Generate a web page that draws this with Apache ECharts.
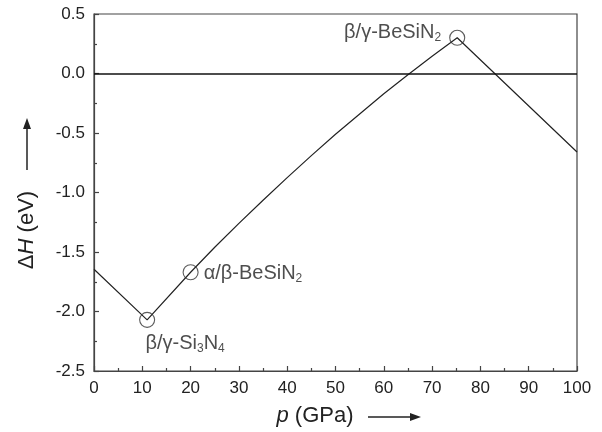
<!DOCTYPE html>
<html>
<head>
<meta charset="utf-8">
<script src="https://cdn.jsdelivr.net/npm/echarts@6/dist/echarts.min.js"></script>
<style>
  html, body { margin: 0; padding: 0; background: #fff; }
  #chart { width: 602px; height: 432px; }
</style>
</head>
<body>
<div id="chart"></div>
<script>
// enthalpy difference vs pressure
const pressure = [0, 11, 20, 25, 30, 35, 40, 45, 50, 55, 60, 65, 70, 75.2, 100]
const deltaH = [-1.645, -2.07, -1.67, -1.46, -1.26, -1.065, -0.875, -0.69, -0.51, -0.34, -0.17, -0.01, 0.145, 0.30, -0.66]

// transition points (open circles)
const transP = [11, 20, 75.2]
const transH = [-2.07, -1.67, 0.30]
const transLabels = ['β/γ-Si{sub|3}N{sub|4}', 'α/β-BeSiN{sub|2}', 'β/γ-BeSiN{sub|2}']

const font = 'Liberation Sans, Arial, sans-serif'
const ink = '#222'

const chart = echarts.init(document.getElementById('chart'))

const labelPos = [
  { position: 'bottom', distance: 5, offset: [38, 0] },
  { position: 'right', distance: 5, offset: [0, 1] },
  { position: 'left', distance: 8, offset: [0, -5] }
]

const richText = {
  sub: { fontSize: 12, fontFamily: font, color: ink, padding: [10, 0, 0, 0] }
}

const option = {
  animation: false,
  backgroundColor: '#fff',
  grid: {
    left: 94, right: 25, top: 14, bottom: 61,
    show: true, borderColor: '#444', borderWidth: 1.2, backgroundColor: 'transparent'
  },
  xAxis: {
    type: 'value', min: 0, max: 100, interval: 10,
    axisLine: { show: true, onZero: false, lineStyle: { color: '#444', width: 1.2 } },
    axisTick: { show: true, inside: true, length: 5, lineStyle: { color: '#444', width: 1.2 } },
    minorTick: { show: true, splitNumber: 2, length: 3, lineStyle: { color: '#444', width: 1.2 } },
    axisLabel: { color: ink, fontSize: 17, fontFamily: font, margin: 9 },
    splitLine: { show: false }
  },
  yAxis: {
    type: 'value', min: -2.5, max: 0.5, interval: 0.5,
    axisLine: { show: true, onZero: false, lineStyle: { color: '#444', width: 1.2 } },
    axisTick: { show: true, inside: true, length: 5, lineStyle: { color: '#444', width: 1.2 } },
    minorTick: { show: true, splitNumber: 2, length: 3, lineStyle: { color: '#444', width: 1.2 } },
    axisLabel: {
      color: ink, fontSize: 17, fontFamily: font, margin: 9,
      formatter: v => v.toFixed(1)
    },
    splitLine: { show: false }
  },
  series: [
    {
      type: 'line',
      data: pressure.map((p, i) => [p, deltaH[i]]),
      showSymbol: false,
      symbol: 'none',
      lineStyle: { color: ink, width: 1.2 },
      markLine: {
        silent: true,
        symbol: 'none',
        label: { show: false },
        lineStyle: { color: '#111', width: 1.6, type: 'solid' },
        data: [{ yAxis: 0 }]
      },
      z: 3
    },
    {
      type: 'scatter',
      data: transP.map((p, i) => ({
        value: [p, transH[i]],
        label: Object.assign({
          show: true,
          formatter: transLabels[i],
          color: ink, fontSize: 20, fontFamily: font,
          rich: richText
        }, labelPos[i])
      })),
      symbol: 'circle',
      symbolSize: 15,
      itemStyle: { color: 'rgba(0,0,0,0)', borderColor: '#333', borderWidth: 1.1 },
      z: 4
    }
  ],
  graphic: [
    // y axis title + arrow
    {
      type: 'text', x: 27, y: 230, rotation: Math.PI / 2,
      style: {
        text: 'Δ{i|H} (eV)', fill: ink, fontSize: 22, fontFamily: font,
        align: 'center', verticalAlign: 'middle',
        rich: { i: { fontStyle: 'italic', fontSize: 22, fontFamily: font, fill: ink } }
      }
    },
    { type: 'line', shape: { x1: 27, y1: 170, x2: 27, y2: 126 }, style: { stroke: ink, lineWidth: 1.5 } },
    { type: 'polygon', shape: { points: [[27, 118], [23, 129], [31, 129]] }, style: { fill: ink } },
    // x axis title + arrow
    {
      type: 'text', x: 315, y: 416,
      style: {
        text: '{i|p} (GPa)', fill: ink, fontSize: 22, fontFamily: font,
        align: 'center', verticalAlign: 'middle',
        rich: { i: { fontStyle: 'italic', fontSize: 22, fontFamily: font, fill: ink } }
      }
    },
    { type: 'line', shape: { x1: 368, y1: 417, x2: 412, y2: 417 }, style: { stroke: ink, lineWidth: 1.5 } },
    { type: 'polygon', shape: { points: [[421, 417], [410, 413], [410, 421]] }, style: { fill: ink } }
  ]
}

chart.setOption(option)
</script>
</body>
</html>
